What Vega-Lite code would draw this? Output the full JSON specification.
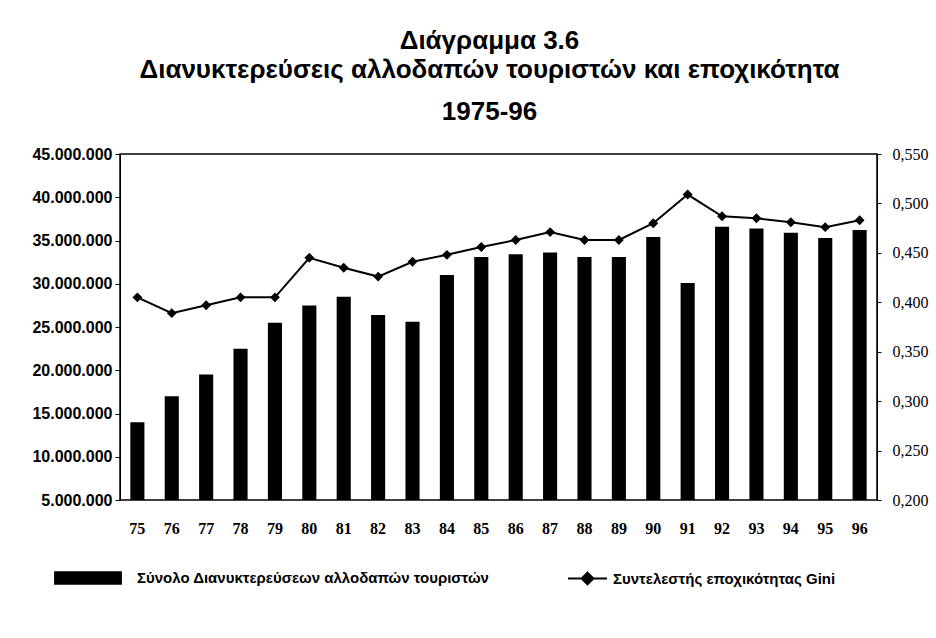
{
  "$schema": "https://vega.github.io/schema/vega-lite/v6.json",
  "width": 757,
  "height": 346,
  "autosize": {"type": "pad"},
  "padding": {"left": 31, "right": 2, "top": 28, "bottom": 10},
  "background": "white",
  "config": {
    "locale": {"number": {"decimal": ",", "thousands": ".", "grouping": [3], "currency": ["", ""]}},
    "view": {"stroke": "black", "strokeWidth": 1.5},
    "font": "Liberation Sans"
  },
  "title": {
    "text": ["Διάγραμμα 3.6", "Διανυκτερεύσεις αλλοδαπών τουριστών και εποχικότητα"],
    "subtitle": "1975-96",
    "font": "Liberation Sans",
    "fontSize": 26,
    "fontWeight": "bold",
    "lineHeight": 29,
    "color": "black",
    "subtitleFont": "Liberation Sans",
    "subtitleFontSize": 26,
    "subtitleFontWeight": "bold",
    "subtitleColor": "black",
    "subtitlePadding": 16,
    "anchor": "middle",
    "dx": -9,
    "offset": 21
  },
  "data": {
    "values": [
      {"year": "75", "overnights": 14000000, "gini": 0.405},
      {"year": "76", "overnights": 17000000, "gini": 0.389},
      {"year": "77", "overnights": 19500000, "gini": 0.397},
      {"year": "78", "overnights": 22500000, "gini": 0.405},
      {"year": "79", "overnights": 25500000, "gini": 0.405},
      {"year": "80", "overnights": 27500000, "gini": 0.445},
      {"year": "81", "overnights": 28500000, "gini": 0.435},
      {"year": "82", "overnights": 26400000, "gini": 0.426},
      {"year": "83", "overnights": 25600000, "gini": 0.441},
      {"year": "84", "overnights": 31000000, "gini": 0.448},
      {"year": "85", "overnights": 33100000, "gini": 0.456},
      {"year": "86", "overnights": 33400000, "gini": 0.463},
      {"year": "87", "overnights": 33600000, "gini": 0.471},
      {"year": "88", "overnights": 33100000, "gini": 0.463},
      {"year": "89", "overnights": 33100000, "gini": 0.463},
      {"year": "90", "overnights": 35400000, "gini": 0.48},
      {"year": "91", "overnights": 30100000, "gini": 0.509},
      {"year": "92", "overnights": 36600000, "gini": 0.487},
      {"year": "93", "overnights": 36400000, "gini": 0.485},
      {"year": "94", "overnights": 35900000, "gini": 0.481},
      {"year": "95", "overnights": 35300000, "gini": 0.476},
      {"year": "96", "overnights": 36200000, "gini": 0.483}
    ]
  },
  "encoding": {
    "x": {
      "field": "year",
      "type": "ordinal",
      "sort": null,
      "scale": {"paddingInner": 0.59, "paddingOuter": 0.3},
      "axis": {
        "title": null,
        "labelAngle": 0,
        "ticks": false,
        "domain": false,
        "labelFont": "Liberation Serif",
        "labelFontSize": 16,
        "labelFontWeight": "bold",
        "labelColor": "black",
        "labelPadding": 20
      }
    }
  },
  "layer": [
    {
      "mark": {"type": "bar", "color": "black", "clip": true},
      "encoding": {
        "y": {
          "field": "overnights",
          "type": "quantitative",
          "scale": {"domain": [5000000, 45000000], "zero": false, "nice": false},
          "axis": {
            "title": null,
            "orient": "left",
            "values": [5000000, 10000000, 15000000, 20000000, 25000000, 30000000, 35000000, 40000000, 45000000],
            "format": ",d",
            "grid": false,
            "domainColor": "black",
            "tickColor": "black",
            "tickSize": 5,
            "labelFont": "Liberation Sans",
            "labelFontSize": 16,
            "labelFontWeight": "bold",
            "labelColor": "black",
            "labelPadding": 3
          }
        },
        "fill": {
          "datum": "Σύνολο Διανυκτερεύσεων αλλοδαπών τουριστών",
          "type": "nominal",
          "scale": {"range": ["black"]},
          "legend": {
            "title": null,
            "orient": "none",
            "legendX": -66,
            "legendY": 390,
            "symbolType": "M-1,-0.2H1V0.2H-1Z",
            "symbolSize": 4600,
            "symbolStrokeWidth": 0,
            "labelOffset": 15,
            "labelFont": "Liberation Sans",
            "labelFontSize": 15,
            "labelFontWeight": "bold",
            "labelColor": "black",
            "labelLimit": 500
          }
        }
      }
    },
    {
      "mark": {
        "type": "line",
        "color": "black",
        "strokeWidth": 2,
        "point": {"shape": "diamond", "filled": true, "size": 50, "color": "black"}
      },
      "encoding": {
        "y": {
          "field": "gini",
          "type": "quantitative",
          "scale": {"domain": [0.2, 0.55], "zero": false, "nice": false},
          "axis": {
            "title": null,
            "orient": "right",
            "values": [0.2, 0.25, 0.3, 0.35, 0.4, 0.45, 0.5, 0.55],
            "format": ".3f",
            "grid": false,
            "domainColor": "black",
            "tickColor": "black",
            "tickSize": 4,
            "labelFont": "Liberation Serif",
            "labelFontSize": 16,
            "labelColor": "black",
            "labelPadding": 11
          }
        },
        "stroke": {
          "datum": "Συντελεστής εποχικότητας Gini",
          "type": "nominal",
          "scale": {"range": ["black"]},
          "legend": {
            "title": null,
            "orient": "none",
            "legendX": 447,
            "legendY": 404,
            "symbolType": "M-1,0H1M0,-0.3L0.3,0L0,0.3L-0.3,0Z",
            "symbolSize": 1521,
            "symbolStrokeWidth": 2,
            "symbolFillColor": "black",
            "labelOffset": 5,
            "labelFont": "Liberation Sans",
            "labelFontSize": 15,
            "labelFontWeight": "bold",
            "labelColor": "black",
            "labelLimit": 500
          }
        }
      }
    }
  ],
  "resolve": {"scale": {"y": "independent"}}
}
